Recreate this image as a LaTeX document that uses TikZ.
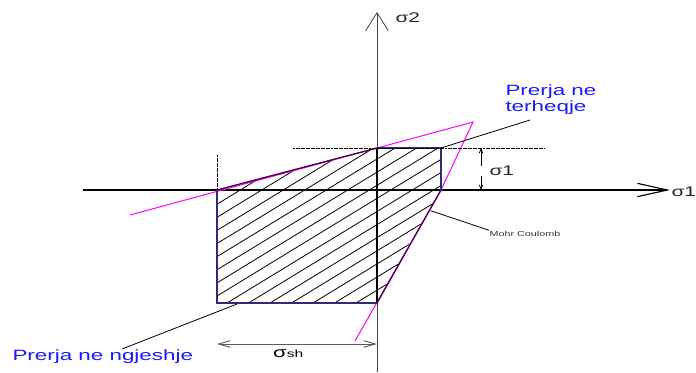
\documentclass[tikz,border=0pt]{standalone}
\usepackage{fontspec}
\setmainfont{Liberation Sans}[FakeStretch=1.5]
\usepackage{tikz}
\usetikzlibrary{arrows.meta}
\definecolor{navyline}{RGB}{45,45,120}
\definecolor{plumline}{RGB}{75,0,75}
\definecolor{prerjablue}{RGB}{25,25,255}
\definecolor{mcpink}{RGB}{255,0,255}
\tikzset{
  bluetext/.style={text=prerjablue,inner sep=0pt,anchor=base west,font=\fontsize{11.2}{9.75}\selectfont},
  sigtext/.style={inner sep=0pt,anchor=base west,text=black!85,font=\fontsize{10.5}{11}\selectfont},
  guide/.style={line width=0.7pt,dash pattern=on 1.5pt off 0.4pt},
  axistip/.style={-{Straight Barb[length=22.5pt,width=10pt]}},
}

\begin{document}
\begin{tikzpicture}[x=0.75pt,y=-0.75pt,line width=0.75pt]
\useasboundingbox (0,0) rectangle (696,372);
\coordinate (A) at (217,190);
\coordinate (B) at (377,148);
\coordinate (C) at (441,148);
\coordinate (D) at (441,190);
\coordinate (E) at (377,303);
\coordinate (F) at (217,303);
\coordinate (apex) at (473,122);
\begin{scope}
\clip (A) -- (B) -- (C) -- (D) -- (E) -- (F) -- cycle;
\foreach \k in {-12,...,10}
  \draw[line width=0.6pt] (207+21.5*\k,315.2) -- ++(320,-195.2);
\end{scope}
\draw[axistip,line width=0.85pt] (83,190) -- (670,190);
\draw[-{Straight Barb[length=13.5pt,width=17pt]},line width=0.6pt,black!75] (377,372) -- (377,12);
\draw[line width=1.4pt] (B) -- (E);
\draw[mcpink] (130,215) -- (apex) -- (D) -- (355,341);
\draw[navyline,line width=1pt] (B) -- (C) -- (D);
\draw[navyline,line width=1pt] (E) -- (F) -- (A);
\draw[plumline,line width=1pt] (A) -- (B);
\draw[plumline,line width=1pt] (D) -- (E);
\draw[guide] (217,155) -- (A);
\draw[guide] (293,148) -- (545,148);
\draw[-{Straight Barb[length=3pt,width=2.5pt]},line width=0.6pt] (481,166) -- (481,148);
\draw[-{Straight Barb[length=3pt,width=2.5pt]},line width=0.6pt] (481,176) -- (481,190);
\draw[{Straight Barb[length=8.7pt,width=5pt]}-{Straight Barb[length=8.7pt,width=5pt]},black!65,line width=0.7pt] (217,344) -- (377,344);
\node[sigtext] (sig2) at (395,22.7) {σ2};
\node[sigtext] (sig1) at (671,196) {σ1};
\node[sigtext] (sig1dim) at (489,175) {σ1};
\node[inner sep=0pt,anchor=base west,font=\fontsize{7.8}{9}\selectfont] (sh) at (272.7,357.3) {{\fontsize{11}{11}\selectfont σ}sh};
\node[inner sep=0pt,anchor=base west,font=\fontsize{5.4}{6}\selectfont,text=black!80] (mc) at (489,236) {Mohr Coulomb};
\node[bluetext,align=left] (tens) at (505,111) {Prerja ne\\terheqje};
\node[bluetext] (comp) at (12,360) {Prerja ne ngjeshje};
\coordinate (tensend) at (530,120);
\coordinate (mcend) at (430.7,210.7);
\coordinate (compend) at (122,349);
\draw[line width=0.6pt] (tensend) -- (C);
\draw[line width=0.6pt] (mcend) -- (mc.north west);
\draw[line width=0.6pt] (compend) -- (237,304);
\end{tikzpicture}
\end{document}
